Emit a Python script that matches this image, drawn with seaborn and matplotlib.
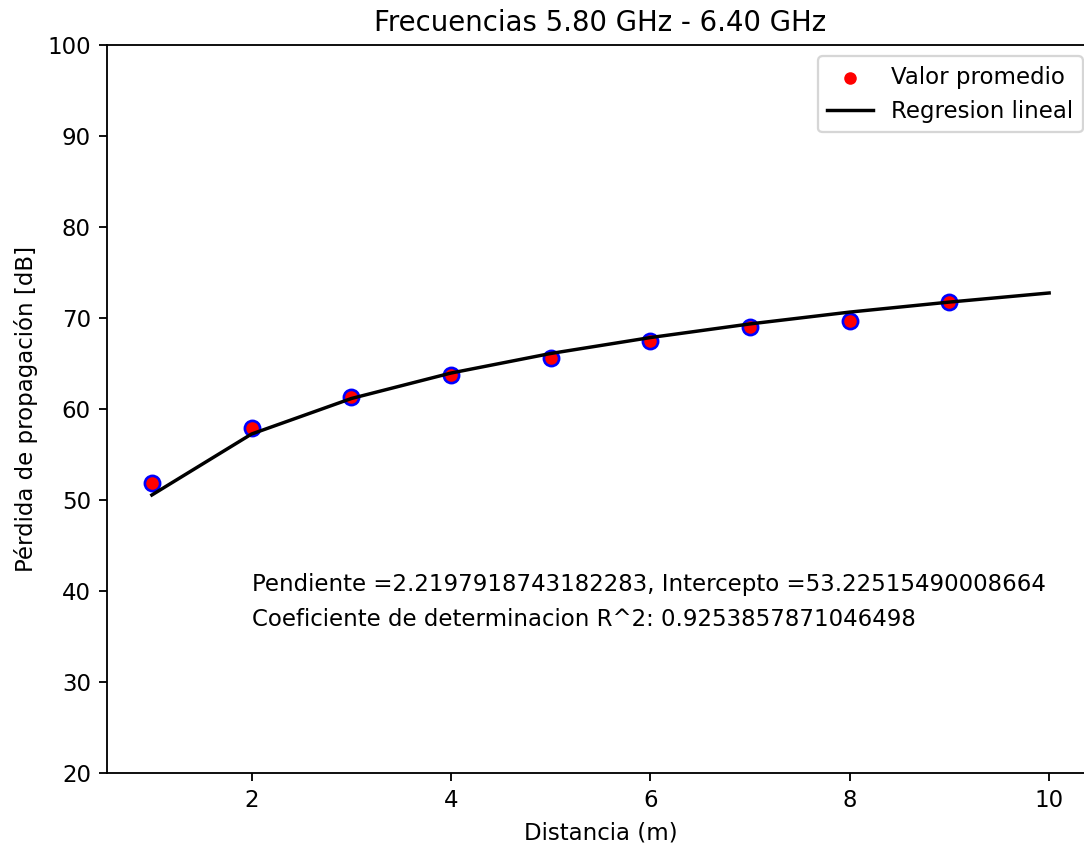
import matplotlib
matplotlib.use("Agg")
import matplotlib.pyplot as plt
import seaborn as sns
import numpy as np
import pandas as pd

distancia = [1, 2, 3, 4, 5, 6, 7, 8, 9]
perdida_prom = [51.9, 57.9, 61.3, 63.7, 65.6, 67.5, 69.0, 69.7, 71.8]
dist_reg = [1, 2, 3, 4, 5, 6, 7, 8, 9, 10]
perdida_reg = [50.55, 57.25, 61.15, 63.95, 66.1, 67.85, 69.35, 70.65, 71.75, 72.75]

titulo = "Frecuencias 5.80 GHz - 6.40 GHz"
texto1 = "Pendiente =2.2197918743182283, Intercepto =53.22515490008664"
texto2 = "Coeficiente de determinacion R^2: 0.9253857871046498"

DPI = 165
fig = plt.figure(figsize=(1084 / DPI, 848 / DPI), dpi=DPI)
ax = fig.add_axes([107 / 1084, 1 - 773 / 848, (1094 - 107) / 1084, (773 - 45) / 848])

df_pts = pd.DataFrame({"d": distancia, "p": perdida_prom})
df_reg = pd.DataFrame({"d": dist_reg, "p": perdida_reg})

# blue outline markers underneath
ax.plot(df_pts["d"], df_pts["p"], "o", color="blue", markersize=6.8, zorder=2)
sns.scatterplot(data=df_pts, x="d", y="p", color="red", s=30, linewidth=0,
                label="Valor promedio", ax=ax, zorder=3)
sns.lineplot(data=df_reg, x="d", y="p", color="black", linewidth=1.5,
             label="Regresion lineal", ax=ax, zorder=4)

ax.set_xlim(0.55, 10.45)
ax.set_ylim(20, 100)
ax.set_xticks([2, 4, 6, 8, 10])
ax.set_yticks(range(20, 101, 10))
ax.set_title(titulo, fontsize=12)
ax.set_xlabel("Distancia (m)")
ax.set_ylabel("Pérdida de propagación [dB]")
ax.text(2, 40, texto1, fontsize=10, va="baseline")
ax.text(2, 36.1, texto2, fontsize=10, va="baseline")
ax.legend(loc="upper right")

fig.savefig("out.png", dpi=DPI)
